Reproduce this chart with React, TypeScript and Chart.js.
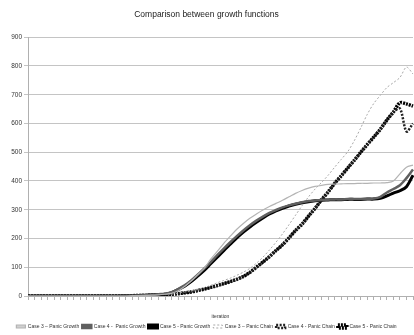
import React, { useEffect, useRef } from "react";
import { Chart, registerables } from "chart.js";

Chart.register(...registerables);

const iterations: string[] = Array.from({ length: 60 }, (_, i) => String(i + 1));

const case3Growth = [0,0,0,0,0,0,0,0,0,0,0,0,0,0,0,0,1,1,2,3,4,6,9,18,33,52,74,96,128,155,183,208,232,252,270,285,299,311,322,333,345,357,367,375,381,385,388,389,390,391,391,392,392,393,393,394,400,425,448,455];
const case4Growth = [0,0,0,0,0,0,0,0,0,0,0,0,0,0,0,1,1,2,3,4,6,8,13,24,37,54,74,95,118,142,165,187,208,228,246,262,276,289,299,308,315,321,326,330,332,334,335,336,336,337,337,337,338,339,345,360,372,385,410,440];
const case5Growth = [0,0,0,0,0,0,0,0,0,0,0,0,0,0,0,1,1,2,3,4,5,6,12,22,34,50,69,89,112,135,158,180,202,222,240,256,271,285,296,305,313,319,324,328,331,333,334,335,335,336,336,336,337,337,340,348,358,366,380,420];
const case3Chain = [0,0,0,0,0,0,0,0,0,0,0,0,0,0,0,0,1,1,2,3,4,5,7,10,14,18,23,29,37,46,54,62,72,83,96,114,135,160,187,216,248,281,314,345,372,395,420,448,475,502,540,585,632,670,698,725,742,760,796,772];
const case4Chain = [0,0,0,0,0,0,0,0,0,0,0,0,0,0,0,1,1,2,2,3,4,5,6,8,11,14,19,24,30,36,43,50,58,68,82,100,118,137,158,178,202,228,250,278,305,335,362,392,418,445,472,500,527,553,580,612,640,652,572,600];
const case5Chain = [0,0,0,0,0,0,0,0,0,0,0,0,0,0,0,1,1,2,2,3,4,5,6,8,11,14,19,24,30,36,43,50,58,68,82,100,118,137,158,178,202,228,250,278,305,335,362,392,418,445,472,500,527,553,580,612,640,672,668,660];

const yTicks = [0, 100, 200, 300, 400, 500, 600, 700, 800, 900];

const legendHeightPlugin = {
  id: "legendHeight",
  afterInit(chart: any) {
    const lg = chart.legend;
    if (!lg) return;
    const orig = lg.fit.bind(lg);
    lg.fit = () => {
      orig();
      lg.height = 14;
    };
  },
};

export default function App() {
  const ref = useRef<HTMLCanvasElement | null>(null);

  useEffect(() => {
    document.body.style.margin = "0";
    const ctx = ref.current;
    if (!ctx) return;
    Chart.defaults.font.family = "'Liberation Sans', Arial, sans-serif";
    const chart = new Chart(ctx, {
      type: "line",
      data: {
        labels: iterations,
        datasets: [
          { label: "Case 3 \u2013 Panic Growth", data: case3Growth, borderColor: "#b4b4b4", backgroundColor: "#d0d0d0", borderWidth: 1.2, pointRadius: 0, tension: 0.3 },
          { label: "Case 4 -  Panic Growth", data: case4Growth, borderColor: "#606060", backgroundColor: "#606060", borderWidth: 2.5, pointRadius: 0, tension: 0.3 },
          { label: "Case 5 - Panic Growth", data: case5Growth, borderColor: "#000000", backgroundColor: "#000000", borderWidth: 3, pointRadius: 0, tension: 0.3 },
          { label: "Case 3 \u2013 Panic Chain", data: case3Chain, borderColor: "#a8a8a8", backgroundColor: "#ffffff", borderWidth: 1, borderDash: [2, 2], pointRadius: 0, tension: 0.3 },
          { label: "Case 4 - Panic Chain", data: case4Chain, borderColor: "#222222", backgroundColor: "#ffffff", borderWidth: 2.5, borderDash: [2, 1.5], pointRadius: 0, tension: 0.3 },
          { label: "Case 5 - Panic Chain", data: case5Chain, borderColor: "#000000", backgroundColor: "#ffffff", borderWidth: 3.5, borderDash: [2, 1], pointRadius: 0, tension: 0.3 },
        ],
      },
      options: {
        animation: false,
        responsive: false,
        layout: { padding: { left: 0, right: 1, top: 0, bottom: 0 } },
        plugins: {
          title: {
            display: true,
            text: "Comparison between growth functions",
            color: "#222",
            font: { size: 8.5, weight: "normal" },
            padding: { top: 10, bottom: 17 },
          },
          legend: {
            position: "bottom",
            labels: {
              color: "#333",
              font: { size: 5 },
              boxWidth: 9,
              boxHeight: 3,
              padding: 3,
            },
          },
          tooltip: { enabled: false },
        },
        scales: {
          x: {
            type: "category",
            offset: false,
            grid: { display: true, drawOnChartArea: false, drawTicks: true, tickLength: 4, color: "#b0b0b0" },
            border: { color: "#b0b0b0" },
            ticks: { autoSkip: false, maxRotation: 0, callback: () => "", padding: 0 },
            title: { display: true, text: "iteration", color: "#333", font: { size: 5 }, padding: { top: 0, bottom: 1 } },
            afterFit: (s: any) => { s.height = 25; },
          },
          y: {
            min: 0,
            max: 900,
            afterBuildTicks: (s: any) => { s.ticks = yTicks.map((v) => ({ value: v })); },
            grid: { color: "#c4c4c4", lineWidth: 1, tickLength: 4 },
            border: { color: "#b0b0b0" },
            ticks: { color: "#333", font: { size: 6.5 }, padding: 2 },
            afterFit: (s: any) => { s.width = 28; },
          },
        },
      },
      plugins: [legendHeightPlugin],
    });
    return () => chart.destroy();
  }, []);

  return (
    <div style={{ width: 414, height: 335 }}>
      <canvas ref={ref} width={414} height={335} />
    </div>
  );
}
